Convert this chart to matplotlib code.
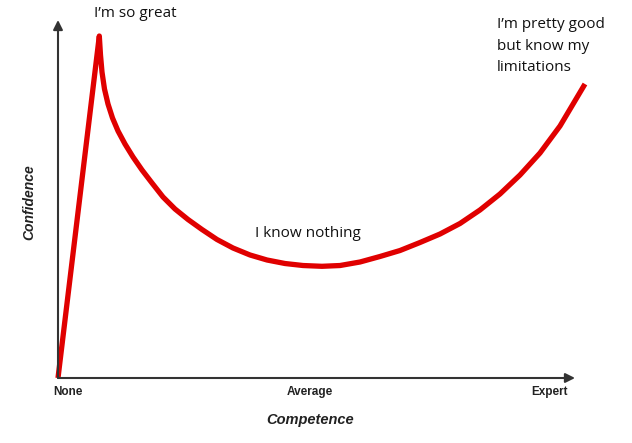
import matplotlib.pyplot as plt

# curve (competence 0..100, confidence 0..100)
competence = [0.0, 7.99, 8.22, 8.51, 8.99, 9.67, 10.54, 11.61, 12.96, 14.51,
              16.25, 18.18, 20.31, 22.63, 25.15, 27.85, 30.75, 33.85, 37.14,
              40.43, 43.91, 47.39, 51.06, 54.55, 58.41, 62.28, 66.15, 70.02,
              73.89, 77.76, 81.62, 85.49, 89.36, 93.23, 97.10, 101.93]
confidence = [0.0, 95.53, 90.22, 85.47, 80.73, 76.54, 72.63, 68.99, 65.36, 61.73,
              58.10, 54.47, 50.56, 47.21, 44.27, 41.48, 38.69, 36.31, 34.36,
              32.96, 31.98, 31.42, 31.20, 31.42, 32.40, 33.94, 35.61, 37.85,
              40.22, 43.16, 46.93, 51.40, 56.70, 62.85, 70.39, 82.12]

tick_pos = [-1.0, 48.7, 98.6]
tick_labels = ["None", "Average", "Expert"]
tick_align = ["left", "center", "right"]

fig = plt.figure(figsize=(6.32, 4.43), dpi=100)
ax = fig.add_axes([58 / 632, 65 / 443, 517 / 632, 358 / 443])
ax.set_xlim(0, 100)
ax.set_ylim(0, 100)
ax.axis("off")

# axes with arrow heads
for end in [(100, 0), (0, 100)]:
    ax.annotate("", xy=end, xytext=(0, 0),
                arrowprops=dict(arrowstyle="-|>", color="#333333", lw=1.5,
                                mutation_scale=14, shrinkA=0, shrinkB=0))

ax.plot(competence, confidence, color="#e00000", lw=3.8, clip_on=False,
        solid_joinstyle="round", solid_capstyle="butt")

for p, lab, ha in zip(tick_pos, tick_labels, tick_align):
    ax.text(p, -2.3, lab, ha=ha, va="top", fontsize=8.5, fontweight="bold",
            family="Liberation Sans", color="#222222")

ax.text(48.7, -9.8, "Competence", ha="center", va="top", fontsize=10.5,
        fontweight="bold", style="italic", family="Liberation Sans", color="#222222")
ax.text(-5.5, 49, "Confidence", ha="center", va="center", rotation=90,
        fontsize=10, fontweight="bold", style="italic", family="Liberation Sans",
        color="#222222")

txt = dict(fontsize=11, family="Open Sans", color="#111111", va="baseline")
ax.text(15.0, 100.8, "I’m so great", ha="center", **txt)
ax.text(48.3, 39.3, "I know nothing", ha="center", **txt)
for yb, line in zip([97.77, 91.62, 85.75], ["I’m pretty good", "but know my", "limitations"]):
    ax.text(84.86, yb, line, ha="left", **txt)

fig.savefig("out.png", dpi=100)
